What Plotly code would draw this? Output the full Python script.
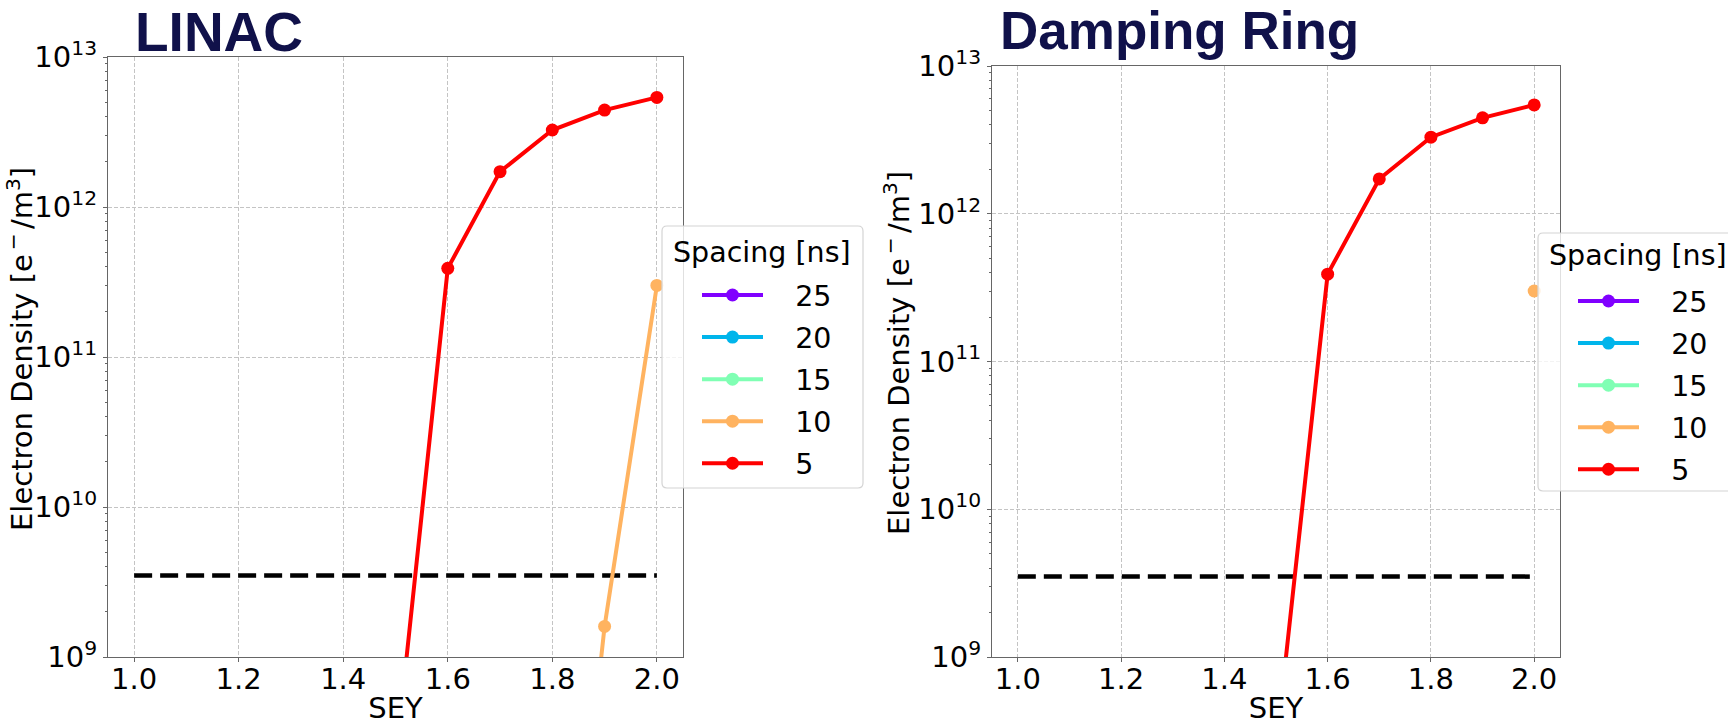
import plotly.graph_objects as go

# Secondary electron yield scan points
sey = [1.0, 1.1, 1.2, 1.3, 1.4, 1.5, 1.6, 1.7, 1.8, 1.9, 2.0]

# Bunch spacings [ns] and their colours (rainbow colormap)
spacings = ["25", "20", "15", "10", "5"]
colors = ["#8000ff", "#00b5eb", "#80ffb4", "#ffb360", "#ff0000"]

# Electron density [e-/m^3] in the LINAC, one list per spacing (None = no build-up)
linac_25 = [None, None, None, None, None, None, None, None, None, None, None]
linac_20 = [None, None, None, None, None, None, None, None, None, None, None]
linac_15 = [None, None, None, None, None, None, None, None, None, None, None]
linac_10 = [None, None, None, None, None, None, None, None, 1.0e6, 1.6e9, 3.0e11]
linac_5 = [None, None, None, None, None, 2.0e8, 3.9e11, 1.72e12, 3.26e12, 4.43e12, 5.38e12]

# Electron density [e-/m^3] in the damping ring, one list per spacing
ring_25 = [None, None, None, None, None, None, None, None, None, None, None]
ring_20 = [None, None, None, None, None, None, None, None, None, None, None]
ring_15 = [None, None, None, None, None, None, None, None, None, None, None]
ring_10 = [None, None, None, None, None, None, None, None, None, None, 3.0e11]
ring_5 = [None, None, None, None, None, 2.4e8, 3.9e11, 1.72e12, 3.3e12, 4.46e12, 5.45e12]

# Instability threshold density
threshold_sey = [1.0, 2.0]
threshold = [3.5e9, 3.5e9]

# Axis ticks
x_ticks = [1.0, 1.2, 1.4, 1.6, 1.8, 2.0]
x_ticklabels = ["1.0", "1.2", "1.4", "1.6", "1.8", "2.0"]
y_ticks = [1e9, 1e10, 1e11, 1e12, 1e13]
y_ticklabels = ["10<sup>9</sup>", "10<sup>10</sup>", "10<sup>11</sup>",
                "10<sup>12</sup>", "10<sup>13</sup>"]
y_minor = [m * 10 ** e for e in range(9, 13) for m in range(2, 10)]

legend_heading = "Spacing [ns]"

NBSP = "\u00a0"
panels = [
    ("x", "y", "legend", [linac_25, linac_20, linac_15, linac_10, linac_5]),
    ("x2", "y2", "legend2", [ring_25, ring_20, ring_15, ring_10, ring_5]),
]

fig = go.Figure()
for xa, ya, leg, series in panels:
    fig.add_trace(go.Scatter(
        x=threshold_sey, y=threshold, mode="lines", xaxis=xa, yaxis=ya,
        line=dict(color="black", width=4.5, dash="18px,8px"),
        showlegend=False, hoverinfo="skip"))
    for name, color, vals in zip(spacings, colors, series):
        fig.add_trace(go.Scatter(
            x=sey, y=vals, mode="lines+markers", name=NBSP * 3 + name,
            xaxis=xa, yaxis=ya, legend=leg, legendgroup=leg + name,
            line=dict(color=color, width=4),
            marker=dict(color=color, size=13),
            connectgaps=False))

W, H = 1728, 725
FS = 29
LFS = 28.5
axis_common = dict(showline=True, linecolor="#666666", linewidth=1.3, mirror=True,
                   ticks="outside", ticklen=4, tickcolor="#666666",
                   showgrid=True, gridcolor="#c4c4c4", gridwidth=1, griddash="4px,2px",
                   zeroline=False, tickfont=dict(size=FS, color="black"))

xaxis_common = dict(axis_common, range=[0.95, 2.05], tickvals=x_ticks,
                    ticktext=x_ticklabels, ticklabelstandoff=-8,
                    title=dict(text="SEY", font=dict(size=FS), standoff=11))
yaxis_common = dict(axis_common, type="log", range=[9, 13], tickvals=y_ticks,
                    ticktext=y_ticklabels,
                    minor=dict(tickvals=y_minor, ticks="outside", ticklen=2,
                               tickcolor="#666666", showgrid=False))

# Legend entries sit inside a framed panel that also carries the heading
legend_common = dict(xanchor="left", yanchor="top", bgcolor="rgba(0,0,0,0)",
                     borderwidth=0, font=dict(size=LFS, color="black"),
                     tracegroupgap=2, itemwidth=61, indentation=35)


def px_x(v):
    return v / W


def px_y(v):
    return 1 - v / H


def frame(x0, y0, x1, y1, r=5):
    """Rounded rectangle path (pixel corners) in paper coordinates."""
    pts = [
        f"M{px_x(x0 + r)},{px_y(y0)}",
        f"L{px_x(x1 - r)},{px_y(y0)}", f"Q{px_x(x1)},{px_y(y0)} {px_x(x1)},{px_y(y0 + r)}",
        f"L{px_x(x1)},{px_y(y1 - r)}", f"Q{px_x(x1)},{px_y(y1)} {px_x(x1 - r)},{px_y(y1)}",
        f"L{px_x(x0 + r)},{px_y(y1)}", f"Q{px_x(x0)},{px_y(y1)} {px_x(x0)},{px_y(y1 - r)}",
        f"L{px_x(x0)},{px_y(y0 + r)}", f"Q{px_x(x0)},{px_y(y0)} {px_x(x0 + r)},{px_y(y0)}", "Z",
    ]
    return dict(type="path", path=" ".join(pts), xref="paper", yref="paper",
                fillcolor="rgba(255,255,255,0.8)", line=dict(color="#d4d4d4", width=1.2),
                layer="above")


y_title = "Electron Density [e<sup>\u2009\u2212\u2009</sup>/m<sup>3</sup>]"
title_color = "#10114a"

fig.update_layout(
    width=W, height=H, autosize=False,
    margin=dict(l=0, r=0, t=0, b=0, autoexpand=False),
    paper_bgcolor="white", plot_bgcolor="white",
    font=dict(family="DejaVu Sans", size=FS, color="black"),
    xaxis=dict(xaxis_common, domain=[108 / W, 683 / W], anchor="y"),
    yaxis=dict(yaxis_common, domain=[1 - 657 / H, 1 - 57 / H], anchor="x"),
    xaxis2=dict(xaxis_common, domain=[992 / W, 1560 / W], anchor="y2"),
    yaxis2=dict(yaxis_common, domain=[1 - 657 / H, 1 - 66 / H], anchor="x2"),
    legend=dict(legend_common, x=px_x(662), y=px_y(270)),
    legend2=dict(legend_common, x=px_x(1538), y=px_y(276)),
    shapes=[frame(662, 226, 863, 488), frame(1538, 233, 1745, 491)],
    annotations=[
        dict(text="<b>LINAC</b>", x=px_x(134), y=1, xref="paper", yref="paper",
             xanchor="left", yanchor="top", showarrow=False, borderpad=0,
             font=dict(family="Liberation Sans", size=55, color=title_color)),
        dict(text="<b>Damping Ring</b>", x=px_x(999), y=1, xref="paper", yref="paper",
             xanchor="left", yanchor="top", showarrow=False, borderpad=0,
             font=dict(family="Liberation Sans", size=53, color=title_color)),
        dict(text=y_title, textangle=-90, x=0, y=px_y(349),
             xref="paper", yref="paper", xanchor="left", yanchor="middle",
             showarrow=False, borderpad=0, font=dict(size=FS)),
        dict(text=y_title, textangle=-90, x=px_x(877), y=px_y(353),
             xref="paper", yref="paper", xanchor="left", yanchor="middle",
             showarrow=False, borderpad=0, font=dict(size=FS)),
        dict(text=legend_heading, x=px_x(672), y=px_y(252), xref="paper", yref="paper",
             xanchor="left", yanchor="middle", showarrow=False, borderpad=0,
             font=dict(size=LFS)),
        dict(text=legend_heading, x=px_x(1548), y=px_y(256), xref="paper", yref="paper",
             xanchor="left", yanchor="middle", showarrow=False, borderpad=0,
             font=dict(size=LFS)),
    ],
)

fig.write_html("out.html")
